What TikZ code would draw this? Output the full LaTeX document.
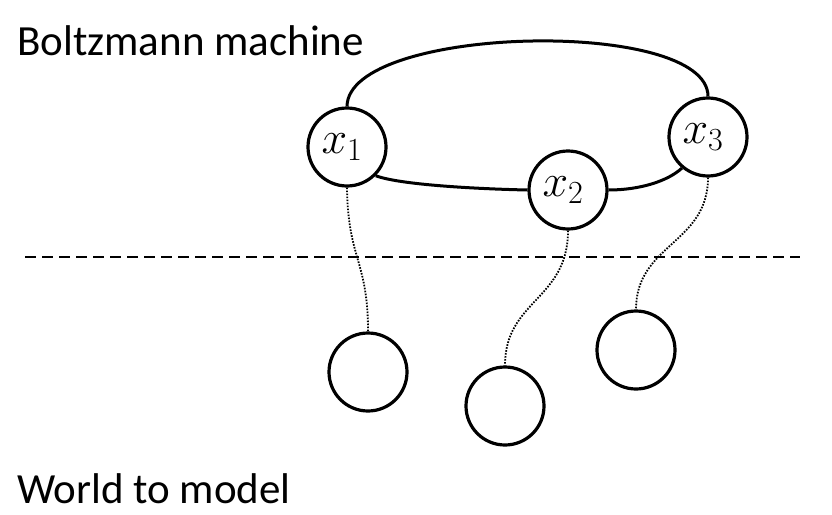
\RequirePackage{fix-cm}
\documentclass[tikz,border=0pt]{standalone}
\usepackage{fontspec}
\setmainfont{Carlito}
\usetikzlibrary{calc}
\newcommand{\unitlabel}[1]{\kern-10pt\raisebox{-8pt}{$#1$}}
\begin{document}
\begin{tikzpicture}[x=1pt,y=-1pt,
  unit/.style={circle,draw,line width=3.2pt,minimum size=78pt,inner sep=0pt,font=\fontsize{46}{54}\selectfont},
  edge/.style={line width=3pt},
  link/.style={line width=1.8pt,dash pattern=on 1.6pt off 1.4pt},
  sep/.style={line width=1.6pt,dash pattern=on 11pt off 6pt},
  title/.style={anchor=base west,inner sep=0pt,font=\fontsize{43}{50}\selectfont}]
\useasboundingbox (0,0) rectangle (832,514);
\node[title] (tb) at (17,55) {Boltzmann machine};
\node[title] (tw) at (17,503) {World to model};
\node[unit] (x1) at (347,147) {\unitlabel{x_1}};
\node[unit] (x2) at (568,190) {\unitlabel{x_2}};
\node[unit] (x3) at (708,137) {\unitlabel{x_3}};
\node[unit] (a) at (368,372) {};
\node[unit] (b) at (505,406) {};
\node[unit] (c) at (636,350) {};
\coordinate (sl) at (25,257);
\coordinate (sr) at (800,257);
\draw[sep] (sl) -- (sr);
\draw[edge] (x1.north) .. controls (348,25) and (708,17) .. (x3.north);
\draw[edge] (x1.-45) .. controls (400,185) and (480,189) .. (x2.west);
\draw[edge] (x2.east) .. controls (640,190) and (668,181) .. (x3.-130);
\draw[link] (x1.south) .. controls (348,260) and (368,260) .. (a.north);
\draw[link] (x2.south) .. controls (568,300) and (505,300) .. (b.north);
\draw[link] (x3.south) .. controls (708,244) and (636,244) .. (c.north);
\end{tikzpicture}
\end{document}
